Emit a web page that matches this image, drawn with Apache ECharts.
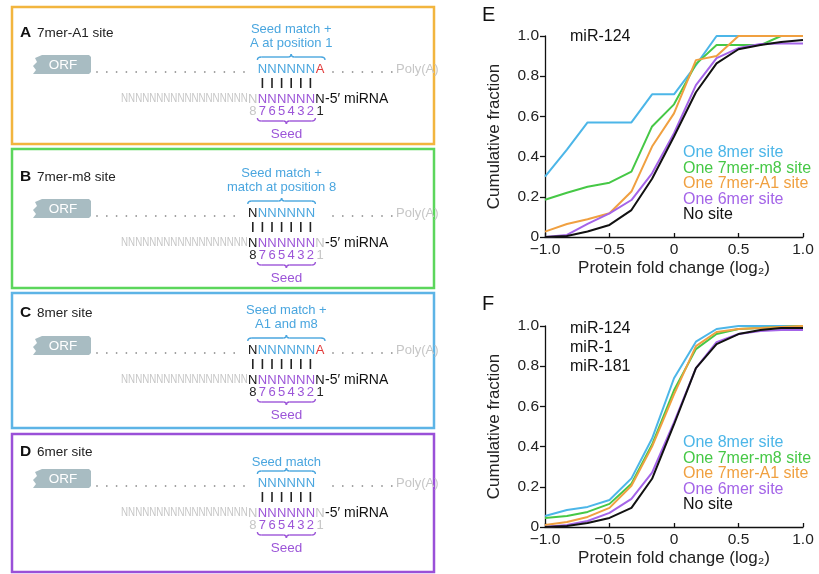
<!DOCTYPE html>
<html>
<head>
<meta charset="utf-8">
<script src="https://cdn.jsdelivr.net/npm/echarts@6/dist/echarts.min.js"></script>
<style>
  html, body { margin: 0; padding: 0; background: #fff; }
  #main { width: 819px; height: 574px; }
</style>
</head>
<body>
<div id="main"></div>
<script>
// fold-change bins (log2)
const foldBins = [-1, -0.83, -0.67, -0.5, -0.33, -0.17, 0, 0.17, 0.33, 0.5, 0.67, 0.83, 1];

// panel E: miR-124
const e8mer   = [0.30, 0.435, 0.57, 0.57, 0.57, 0.71, 0.71, 0.855, 1.0, 1.0, 1.0, 1.0, 1.0];
const e7merM8 = [0.185, 0.22, 0.25, 0.27, 0.325, 0.55, 0.66, 0.86, 0.955, 0.955, 0.955, 1.0, 1.0];
const e7merA1 = [0.027, 0.065, 0.088, 0.118, 0.226, 0.45, 0.615, 0.88, 0.90, 1.0, 1.0, 1.0, 1.0];
const e6mer   = [0.0, 0.01, 0.065, 0.118, 0.184, 0.317, 0.516, 0.756, 0.89, 0.94, 0.96, 0.963, 0.963];
const eNoSite = [0.0, 0.005, 0.027, 0.06, 0.134, 0.29, 0.5, 0.72, 0.864, 0.934, 0.955, 0.97, 0.98];

// panel F: miR-124, miR-1, miR-181 pooled
const f8mer   = [0.055, 0.085, 0.10, 0.134, 0.242, 0.44, 0.74, 0.922, 0.985, 1.0, 1.0, 1.0, 1.0];
const f7merM8 = [0.045, 0.055, 0.075, 0.115, 0.215, 0.41, 0.68, 0.885, 0.96, 0.985, 0.99, 0.995, 1.0];
const f7merA1 = [0.01, 0.025, 0.05, 0.095, 0.205, 0.40, 0.66, 0.90, 0.97, 0.985, 0.99, 0.995, 1.0];
const f6mer   = [0.0, 0.01, 0.03, 0.07, 0.14, 0.27, 0.52, 0.79, 0.92, 0.96, 0.975, 0.98, 0.98];
const fNoSite = [0.0, 0.005, 0.02, 0.045, 0.095, 0.24, 0.51, 0.79, 0.91, 0.96, 0.98, 0.99, 0.99];

const siteNames = ["One 8mer site", "One 7mer-m8 site", "One 7mer-A1 site", "One 6mer site", "No site"];
const siteColors = ["#4cb6e8", "#46c846", "#f0a040", "#a464e8", "#111111"];

// diagram panels A-D
const panelLetters = ["A", "B", "C", "D"];
const panelTitles = ["7mer-A1 site", "7mer-m8 site", "8mer site", "6mer site"];
const panelBorders = ["#f2b53e", "#5cd65c", "#5db4e6", "#9a50d8"];
const seedNotes = [["Seed match +", "A at position 1"], ["Seed match +", "match at position 8"], ["Seed match +", "A1 and m8"], ["Seed match"]];

const FONT = '"Liberation Sans", Arial, sans-serif';
const SEQ_BLUE = "#4aa6df";
const SEQ_PURPLE = "#9c55d8";
const RED = "#e23b3b";
const LIGHT = "#c6c6c6";

// column x of miRNA position k (1..8)
function col(k) {
  return 320 - (k - 1) * 9.6;
}

function txt(x, y, s, color, size, align, weight) {
  return {
    type: "text",
    x: x,
    y: y,
    silent: true,
    style: {
      text: s,
      fill: color,
      fontSize: size,
      fontFamily: FONT,
      fontWeight: weight || "normal",
      textAlign: align || "center",
      textVerticalAlign: "middle",
    },
  };
}

// curly brace between xa and xb, dir -1 = tip up, +1 = tip down
function brace(xa, xb, y0, dir, color) {
  const xm = (xa + xb) / 2;
  const y1 = y0 + dir * 3;
  const y2 = y0 + dir * 6;
  const st = { stroke: color, lineWidth: 1.4, fill: null };
  return [
    { type: "bezierCurve", silent: true, shape: { x1: xa, y1: y0, cpx1: xa, cpy1: y1, x2: xa + 4, y2: y1 }, style: st },
    { type: "line", silent: true, shape: { x1: xa + 4, y1: y1, x2: xm - 3, y2: y1 }, style: st },
    { type: "bezierCurve", silent: true, shape: { x1: xm - 3, y1: y1, cpx1: xm, cpy1: y1, x2: xm, y2: y2 }, style: st },
    { type: "bezierCurve", silent: true, shape: { x1: xm, y1: y2, cpx1: xm, cpy1: y1, x2: xm + 3, y2: y1 }, style: st },
    { type: "line", silent: true, shape: { x1: xm + 3, y1: y1, x2: xb - 4, y2: y1 }, style: st },
    { type: "bezierCurve", silent: true, shape: { x1: xb - 4, y1: y1, cpx1: xb, cpy1: y1, x2: xb, y2: y0 }, style: st },
  ];
}

function dots(x1, x2, y) {
  const out = [];
  for (let x = x1; x <= x2; x += 9.8) {
    out.push({ type: "circle", silent: true, shape: { cx: x, cy: y, r: 0.9 }, style: { fill: "#9a9a9a" } });
  }
  return out;
}

const boxTops = [7, 149, 293, 434];
const boxBottoms = [144, 288, 428, 572];
const targetRows = [69, 213, 350, 483];
const labelRows = [33, 177, 313, 452];

// per panel: which end positions pair (8 and 1)
const pairs8 = [false, true, true, false];
const pairs1 = [true, false, true, false];

const graphics = [];

panelLetters.forEach((letter, p) => {
  const top = boxTops[p];
  const ty = targetRows[p];
  graphics.push({
    type: "rect",
    silent: true,
    shape: { x: 12, y: top, width: 422, height: boxBottoms[p] - top },
    style: { fill: null, stroke: panelBorders[p], lineWidth: 2.5 },
  });
  graphics.push(txt(20, labelRows[p], letter, "#111", 15.5, "left", "bold"));
  graphics.push(txt(37, labelRows[p], panelTitles[p], "#222", 13.5, "left"));

  // ORF tag
  const oy = ty - 5;
  graphics.push({
    type: "polygon",
    silent: true,
    shape: {
      points: [[42, oy - 9], [89, oy - 9], [91, oy - 7], [91, oy + 8], [89, oy + 10], [33, oy + 10],
        [36, oy + 6], [33, oy + 2], [37, oy - 2], [35, oy - 6]],
    },
    style: { fill: "#a8bcc2" },
  });
  graphics.push(txt(63, oy + 1, "ORF", "#fff", 13.5));

  // target mRNA row
  const lo = pairs8[p] ? 8 : 7;
  graphics.push(...dots(97, col(lo) - 9, ty + 3));
  graphics.push(...dots(333, 392, ty + 3));
  graphics.push(txt(396, ty, "Poly(A)", LIGHT, 13, "left"));
  if (pairs8[p]) graphics.push(txt(col(8), ty, "N", "#111", 13));
  for (let k = 7; k >= 2; k--) graphics.push(txt(col(k), ty, "N", SEQ_BLUE, 13));
  if (pairs1[p]) graphics.push(txt(col(1), ty, "A", RED, 13));

  // base-pair bars
  for (let k = lo; k >= 2; k--) {
    graphics.push({
      type: "line",
      silent: true,
      shape: { x1: col(k), y1: ty + 9, x2: col(k), y2: ty + 19 },
      style: { stroke: "#222", lineWidth: 1.6 },
    });
  }

  // seed-match note and brace
  const hi = pairs1[p] ? 1 : 2;
  const bx1 = col(lo) - 5;
  const bx2 = col(hi) + 5;
  const notes = seedNotes[p];
  if (notes.length === 2) {
    graphics.push(txt((bx1 + bx2) / 2, ty - 40, notes[0], SEQ_BLUE, 13));
    graphics.push(txt((bx1 + bx2) / 2, ty - 26, notes[1], SEQ_BLUE, 13));
  } else {
    graphics.push(txt((bx1 + bx2) / 2, ty - 21, notes[0], SEQ_BLUE, 13));
  }
  graphics.push(...brace(bx1, bx2, ty - 9, -1, SEQ_BLUE));

  // miRNA row
  const my = ty + 30;
  graphics.push({
    type: "text",
    x: col(8) - 5,
    y: my,
    scaleX: 0.78,
    silent: true,
    style: {
      text: "NNNNNNNNNNNNNNNNNN",
      fill: LIGHT,
      fontSize: 12.5,
      fontFamily: FONT,
      textAlign: "right",
      textVerticalAlign: "middle",
    },
  });
  graphics.push(txt(col(8), my, "N", pairs8[p] ? "#111" : LIGHT, 13));
  for (let k = 7; k >= 2; k--) graphics.push(txt(col(k), my, "N", SEQ_PURPLE, 13));
  graphics.push(txt(col(1), my, "N", pairs1[p] ? "#111" : LIGHT, 13));
  graphics.push(txt(col(1) + 5, my, "-5\u2032 miRNA", "#111", 14, "left"));

  // position numbers
  const ny = ty + 42;
  graphics.push(txt(col(8), ny, "8", pairs8[p] ? "#222" : LIGHT, 13));
  for (let k = 7; k >= 2; k--) graphics.push(txt(col(k), ny, String(k), SEQ_PURPLE, 13));
  graphics.push(txt(col(1), ny, "1", pairs1[p] ? "#222" : LIGHT, 13));

  graphics.push(...brace(col(7) - 5, col(2) + 5, ty + 49, 1, SEQ_PURPLE));
  graphics.push(txt((col(7) + col(2)) / 2, ty + 65, "Seed", SEQ_PURPLE, 13.5));
});

// chart panel labels and legends
graphics.push(txt(482, 15, "E", "#111", 20, "left"));
graphics.push(txt(482, 304, "F", "#111", 20, "left"));
graphics.push(txt(570, 37, "miR-124", "#111", 16, "left"));
["miR-124", "miR-1", "miR-181"].forEach((s, i) => {
  graphics.push(txt(570, 329 + i * 19, s, "#111", 16, "left"));
});
siteNames.forEach((s, i) => {
  graphics.push(txt(683, 153 + i * 15.5, s, siteColors[i], 16, "left"));
  graphics.push(txt(683, 443 + i * 15.5, s, siteColors[i], 16, "left"));
});

function xLabel(v) {
  if (v === 0) return "0";
  return (v < 0 ? "\u2212" : "") + Math.abs(v).toFixed(1);
}

function makeXAxis(gi) {
  return {
    type: "value",
    gridIndex: gi,
    min: -1,
    max: 1,
    interval: 0.5,
    name: "Protein fold change (log\u2082)",
    nameLocation: "middle",
    nameGap: 23,
    nameTextStyle: { fontSize: 17, color: "#222", fontFamily: FONT },
    axisLine: { onZero: false, lineStyle: { color: "#111", width: 1.3 } },
    axisTick: { inside: true, length: 4, lineStyle: { color: "#111", width: 1.3 } },
    axisLabel: { formatter: xLabel, fontSize: 15.5, color: "#222", fontFamily: FONT, margin: 5 },
    splitLine: { show: false },
  };
}

function makeYAxis(gi) {
  return {
    type: "value",
    gridIndex: gi,
    min: 0,
    max: 1,
    interval: 0.2,
    name: "Cumulative fraction",
    nameLocation: "middle",
    nameGap: 42,
    nameTextStyle: { fontSize: 17, color: "#222", fontFamily: FONT },
    axisLine: { show: true, onZero: false, lineStyle: { color: "#111", width: 1.3 } },
    axisTick: { show: true, length: 5, lineStyle: { color: "#111", width: 1.3 } },
    axisLabel: {
      formatter: (v) => (v === 0 ? "0" : v.toFixed(1)),
      fontSize: 15.5,
      color: "#222",
      fontFamily: FONT,
      margin: 6,
    },
    splitLine: { show: false },
  };
}

const eSets = [e8mer, e7merM8, e7merA1, e6mer, eNoSite];
const fSets = [f8mer, f7merM8, f7merA1, f6mer, fNoSite];

const series = [];
[eSets, fSets].forEach((sets, gi) => {
  sets.forEach((vals, i) => {
    series.push({
      name: siteNames[i],
      type: "line",
      xAxisIndex: gi,
      yAxisIndex: gi,
      data: foldBins.map((x, j) => [x, vals[j]]),
      showSymbol: false,
      symbol: "none",
      lineStyle: { color: siteColors[i], width: 2 },
      itemStyle: { color: siteColors[i] },
      z: 2 + i,
    });
  });
});

const myChart = echarts.init(document.getElementById("main"));

const option = {
  animation: false,
  backgroundColor: "#fff",
  grid: [
    { left: 545, top: 36, width: 258, height: 201 },
    { left: 545, top: 326, width: 258, height: 201 },
  ],
  xAxis: [makeXAxis(0), makeXAxis(1)],
  yAxis: [makeYAxis(0), makeYAxis(1)],
  series: series,
  graphic: { elements: graphics },
};

option && myChart.setOption(option);
</script>
</body>
</html>
